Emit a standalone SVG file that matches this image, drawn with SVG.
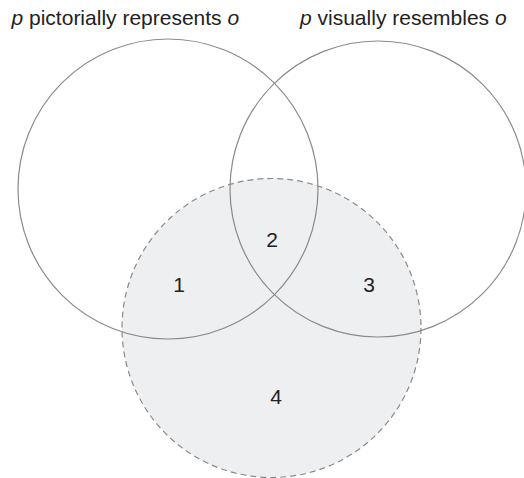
<svg xmlns="http://www.w3.org/2000/svg" width="524" height="478" viewBox="0 0 524 478">
  <style>
    .set { fill: none; stroke: #8a8a8a; stroke-width: 1.2; }
    .shaded { fill: #eeeff1; stroke: #8a8a8a; stroke-width: 1.2; stroke-dasharray: 6 4; }
    .title { font-family: "Liberation Sans", Arial, sans-serif; font-size: 21px; fill: #222; }
    .num { font-family: "Liberation Sans", Arial, sans-serif; font-size: 21px; fill: #222; text-anchor: middle; }
  </style>
  <rect width="524" height="478" fill="#ffffff"/>
  <g id="set-shaded">
    <circle class="shaded" cx="271.5" cy="328" r="149.5"/>
  </g>
  <g id="set-pictorial">
    <circle class="set" cx="168" cy="189" r="150"/>
    <text class="title" x="11.5" y="25"><tspan font-style="italic">p</tspan> pictorially represents <tspan font-style="italic">o</tspan></text>
  </g>
  <g id="set-resemblance">
    <circle class="set" cx="378" cy="189" r="148"/>
    <text class="title" x="300" y="25"><tspan font-style="italic">p</tspan> visually resembles <tspan font-style="italic">o</tspan></text>
  </g>
  <g id="regions">
    <text class="num" x="179" y="292">1</text>
    <text class="num" x="272" y="247">2</text>
    <text class="num" x="369" y="292">3</text>
    <text class="num" x="276" y="404">4</text>
  </g>
</svg>
